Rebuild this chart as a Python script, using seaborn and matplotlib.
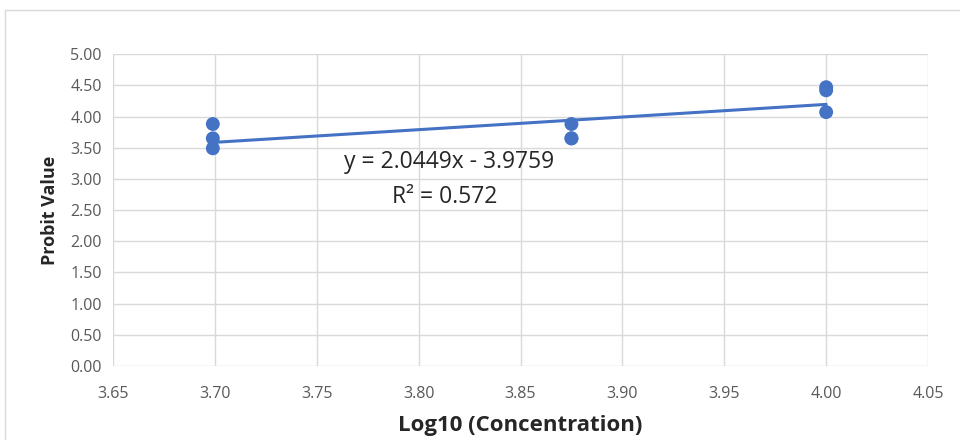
import numpy as np
import pandas as pd
import matplotlib
matplotlib.use("Agg")
import matplotlib.pyplot as plt
import seaborn as sns
from matplotlib.patches import Rectangle

# Data (three replicates per concentration, two overlap at 3.875)
log_conc = [3.699, 3.699, 3.699, 3.875, 3.875, 3.875, 4.000, 4.000, 4.000]
probit = [3.88, 3.65, 3.49, 3.88, 3.65, 3.65, 4.47, 4.42, 4.07]
slope = 2.0449
intercept = -3.9759
r_squared = 0.572

x_ticks = [3.65, 3.70, 3.75, 3.80, 3.85, 3.90, 3.95, 4.00, 4.05]
y_ticks = [0.0, 0.5, 1.0, 1.5, 2.0, 2.5, 3.0, 3.5, 4.0, 4.5, 5.0]

df = pd.DataFrame({"x": log_conc, "y": probit})

sns.set_style("white")
plt.rcParams["font.family"] = ["Open Sans", "DejaVu Sans"]

fig = plt.figure(figsize=(9.6, 4.4), dpi=100)
ax = fig.add_axes([0.1177, 0.168, 0.849, 0.709])

blue = "#4472C4"
sns.regplot(data=df, x="x", y="y", ci=None, ax=ax,
            scatter_kws=dict(s=100, color=blue, alpha=1, zorder=3, edgecolor="none"),
            line_kws=dict(color=blue, lw=2.2, zorder=2))

ax.set_xlim(x_ticks[0], x_ticks[-1])
ax.set_ylim(y_ticks[0], y_ticks[-1])
ax.set_xticks(x_ticks)
ax.set_yticks(y_ticks)
ax.set_xticklabels([f"{t:.2f}" for t in x_ticks])
ax.set_yticklabels([f"{t:.2f}" for t in y_ticks])
ax.tick_params(axis="both", labelsize=11.5, labelcolor="#595959", length=0, pad=8)
ax.tick_params(axis="x", pad=14)
ax.grid(True, color="#d9d9d9", lw=1)
for s in ax.spines.values():
    s.set_visible(False)

ax.set_xlabel("Log10 (Concentration)", fontsize=16, fontweight="bold", color="#262626", labelpad=10)
ax.set_ylabel("Probit Value", fontsize=13, fontweight="bold", color="#262626", labelpad=8)

ax.text(3.815, 3.27, f"y = {slope:.4f}x - {abs(intercept):.4f}", fontsize=16.5,
        ha="center", va="center", color="#262626")
ax.text(3.813, 2.71, f"R² = {r_squared}", fontsize=16.5, ha="center", va="center", color="#262626")

# outer chart border
fig.patches.append(Rectangle((0.005, -0.01), 0.999, 0.987, transform=fig.transFigure,
                             fill=False, edgecolor="#d9d9d9", lw=1))

fig.savefig("out.png", dpi=100)
